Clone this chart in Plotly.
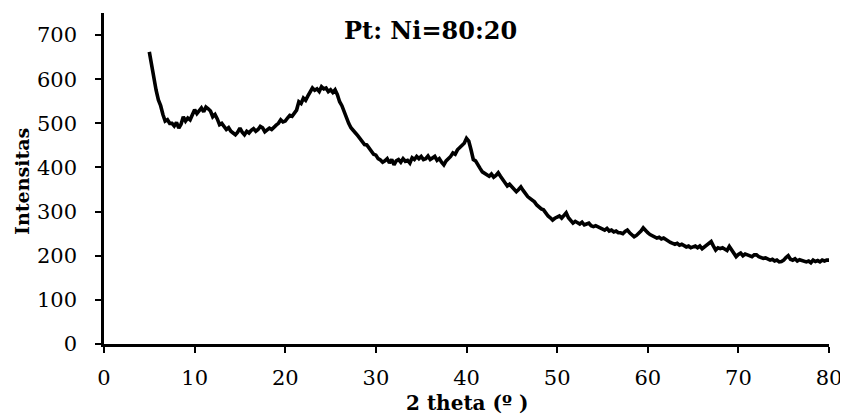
import plotly.graph_objects as go

# 2-theta sampling grid (degrees)
theta_start = 5.0
theta_step = 0.25

intensity = [
    662, 630, 598, 575, 553, 540, 520, 505, 508, 500, 500, 494, 502, 489, 498, 515, 505, 512, 508, 520,
    531, 522, 528, 535, 526, 537, 533, 528, 515, 520, 510, 497, 500, 492, 486, 490, 482, 478, 474, 480,
    489, 480, 474, 482, 478, 484, 488, 482, 486, 493, 490, 481, 484, 489, 486, 492, 496, 500, 508, 503,
    505, 512, 518, 516, 523, 530, 549, 545, 557, 552, 562, 570, 580, 575, 578, 572, 583, 578, 580, 572,
    576, 570, 576, 565, 549, 540, 525, 510, 500, 490, 485, 478, 472, 465, 458, 452, 451, 445, 436, 430,
    428, 420, 417, 412, 415, 420, 410, 418, 406, 415, 418, 412, 420, 414, 416, 410, 422, 418, 425, 420,
    425, 418, 420, 426, 418, 422, 425, 416, 420, 412, 406, 415, 420, 425, 433, 430, 440, 445, 451, 455,
    466, 460, 440, 418, 415, 405, 398, 390, 386, 383, 380, 385, 378, 382, 388, 380, 372, 365, 358, 362,
    356, 350, 345, 350, 356, 348, 340, 334, 330, 327, 322, 315, 310, 306, 304, 296, 290, 286, 281, 285,
    288, 290, 285, 292, 297, 286, 280, 274, 278, 275, 272, 276, 270, 272, 274, 268, 266, 268, 266, 262,
    262, 258, 262, 256, 258, 254, 256, 252, 252, 250, 255, 258, 252, 248, 243, 246, 250, 256, 263, 256,
    252, 248, 246, 244, 240, 242, 238, 240, 236, 232, 230, 228, 226, 228, 224, 226, 222, 220, 222, 218,
    220, 222, 218, 222, 216, 220, 224, 228, 232, 222, 213, 218, 216, 218, 214, 212, 221, 214, 205, 198,
    203, 206, 200, 204, 202, 200, 198, 202, 202, 198, 196, 194, 195, 192, 190, 192, 188, 190, 186, 187,
    190, 196, 200, 192, 190, 193, 188, 191, 190, 187, 186, 188, 184, 190, 187, 189, 186, 190, 188, 190,
    190,
]
two_theta = [theta_start + theta_step * i for i in range(len(intensity))]

x_ticks = [0, 10, 20, 30, 40, 50, 60, 70, 80]
y_ticks = [0, 100, 200, 300, 400, 500, 600, 700]

fig = go.Figure()
fig.add_trace(go.Scatter(x=two_theta, y=intensity, mode="lines",
                         line=dict(color="black", width=3.6), showlegend=False))

font = "DejaVu Serif"
fig.update_layout(
    width=840, height=409,
    margin=dict(l=96, r=19, t=5, b=73),
    paper_bgcolor="white", plot_bgcolor="white",
    font=dict(family=font, size=21, color="black"),
    annotations=[
        dict(text="<b>Pt: Ni=80:20</b>", xref="paper", yref="paper",
             x=0.451, y=0.946, xanchor="center", yanchor="middle", showarrow=False,
             font=dict(family=font, size=24, color="black")),
        dict(text="<b>Intensitas</b>", xref="paper", yref="paper",
             x=-0.113, y=0.49, xanchor="center", yanchor="middle", showarrow=False,
             textangle=-90, font=dict(family=font, size=19, color="black")),
        dict(text="<b>2 theta (º )</b>", xref="paper", yref="paper",
             x=0.5, y=-0.178, xanchor="center", yanchor="middle", showarrow=False,
             font=dict(family=font, size=20, color="black")),
    ],
)
fig.update_xaxes(range=[0, 80], tickvals=x_ticks, automargin=False,
                 showline=True, linecolor="black", linewidth=2.5,
                 ticks="outside", ticklen=6, tickwidth=2, tickcolor="black",
                 ticklabelstandoff=7,
                 showgrid=False, zeroline=False)
fig.update_yaxes(range=[0, 750], tickvals=y_ticks, automargin=False,
                 showline=True, linecolor="black", linewidth=2.5,
                 ticks="outside", ticklen=6, tickwidth=2, tickcolor="black",
                 ticklabelstandoff=14,
                 showgrid=False, zeroline=False)

fig.write_html("out.html")
